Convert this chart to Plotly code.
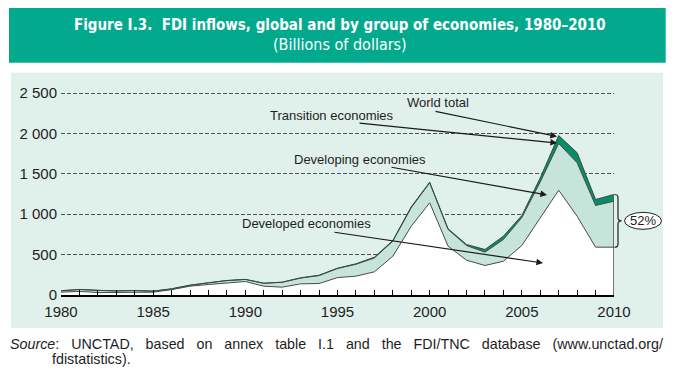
import plotly.graph_objects as go

# ---------------- data (billions of dollars) ----------------
years = list(range(1980, 2011))
developed = [35, 45, 30, 30, 32, 35, 66, 109, 130, 151, 167, 109, 97, 138, 142,
             216, 233, 287, 480, 852, 1141, 604, 431, 365, 418, 613, 959, 1297, 975, 592, 592]
developing = [15, 23, 27, 20, 23, 12, 9, 11, 20, 27, 25, 36, 60, 71, 98,
              112, 147, 171, 186, 229, 247, 207, 181, 165, 269, 345, 441, 578, 661, 516, 569]
transition = [4, 1, 1, 1, 1, 1, 2, 2, 2, 2, 2, 1, 2, 4, 5,
              4, 6, 10, 8, 10, 8, 8, 13, 33, 41, 26, 50, 99, 124, 74, 83]
x_label_years = [1980, 1985, 1990, 1995, 2000, 2005, 2010]
y_tick_vals = [0, 500, 1000, 1500, 2000, 2500]
y_tick_text = ["0", "500", "1 000", "1 500", "2 000", "2 500"]
share_label = "52%"

world = [a + b + c for a, b, c in zip(developed, developing, transition)]

# ---------------- layout geometry ----------------
FW, FH = 675, 378
L, R, T, B = 61, 61, 83, 83
W, H = FW - L - R, FH - T - B
YMAX = 2624

def px2x(px):
    return 1980 + (px - L) / W * 30

def py2y(py):
    return (T + H - py) / H * YMAX

def xp(px):
    return (px - L) / W

def yp(py):
    return (T + H - py) / H

LINE = "#4a4a4a"
TXT = "#1e1e1e"
SANS = "Liberation Sans, Arial, sans-serif"
COND = "DejaVu Sans Condensed, Liberation Sans Narrow, Arial Narrow, sans-serif"

fig = go.Figure()
fig.add_trace(go.Scatter(x=years, y=developed, stackgroup="s", mode="lines",
                         line=dict(color=LINE, width=1), fillcolor="#ffffff",
                         name="Developed economies"))
fig.add_trace(go.Scatter(x=years, y=developing, stackgroup="s", mode="lines",
                         line=dict(color=LINE, width=1), fillcolor="#c6e4d9",
                         name="Developing economies"))
fig.add_trace(go.Scatter(x=years, y=transition, stackgroup="s", mode="lines",
                         line=dict(color="#2f4f45", width=1), fillcolor="#0b8c69",
                         name="Transition economies"))

shapes = []
# light chart panel
shapes.append(dict(type="rect", xref="paper", yref="paper", layer="below",
                   x0=xp(11), x1=xp(663), y0=yp(328), y1=yp(72.7),
                   fillcolor="#e0f0ea", line=dict(width=0)))
# title banner
shapes.append(dict(type="rect", xref="paper", yref="paper", layer="below",
                   x0=xp(9), x1=xp(665.7), y0=yp(62.7), y1=yp(8),
                   fillcolor="#03a98c", line=dict(width=0)))
# right edge at 2010
shapes.append(dict(type="line", xref="x", yref="y", x0=2010, x1=2010,
                   y0=0, y1=developed[-1] + developing[-1],
                   line=dict(color=LINE, width=1.5)))
# brace for developing share in 2010
yt = world[-1] / YMAX
yb = developed[-1] / YMAX
ym = (yt + yb) / 2
x0b, xb, xt = xp(614.5), xp(618), xp(621.5)
c = 3 / H
path = (f"M {x0b},{yt} Q {xb},{yt} {xb},{yt - c} L {xb},{ym + c} "
        f"Q {xb},{ym} {xt},{ym} Q {xb},{ym} {xb},{ym - c} "
        f"L {xb},{yb + c} Q {xb},{yb} {x0b},{yb}")
shapes.append(dict(type="path", xref="paper", yref="paper", path=path,
                   line=dict(color="#222222", width=1.2)))
# ellipse around share label
shapes.append(dict(type="circle", xref="paper", yref="paper",
                   x0=xp(624.5), x1=xp(661.5), y0=ym - 8.5 / H, y1=ym + 8.5 / H,
                   fillcolor="#ffffff", line=dict(color="#222222", width=1)))

annotations = []
# title
annotations.append(dict(xref="paper", yref="paper", x=xp(340), y=yp(25),
                        text="<b>Figure I.3.  FDI inflows, global and by group of economies, 1980–2010</b>",
                        showarrow=False, xanchor="center", yanchor="middle",
                        font=dict(family=COND, size=15, color="#ffffff")))
annotations.append(dict(xref="paper", yref="paper", x=xp(340), y=yp(44.5),
                        text="(Billions of dollars)",
                        showarrow=False, xanchor="center", yanchor="middle",
                        font=dict(family=COND, size=16, color="#ffffff")))

# series labels and arrows
labels = [
    ("World total", (437.5, 102.7), (434, 111), (557, 136.5)),
    ("Transition economies", (331.5, 115.7), (358, 123), (557, 143)),
    ("Developing economies", (359.5, 159), (390, 167), (547, 195)),
    ("Developed economies", (306.5, 223), (333, 232), (543, 263)),
]
for text, (tx, ty), (sx, sy), (ex, ey) in labels:
    annotations.append(dict(xref="x", yref="y", x=px2x(tx), y=py2y(ty), text=text,
                            showarrow=False, xanchor="center", yanchor="middle",
                            font=dict(family=SANS, size=13, color=TXT)))
    annotations.append(dict(xref="x", yref="y", axref="x", ayref="y",
                            x=px2x(ex), y=py2y(ey), ax=px2x(sx), ay=py2y(sy),
                            text="", showarrow=True, arrowhead=2, arrowsize=1.1,
                            arrowwidth=1.2, arrowcolor="#1a1a1a", standoff=0,
                            startstandoff=0))
annotations.append(dict(xref="paper", yref="paper", x=xp(643), y=ym, text=share_label,
                        showarrow=False, xanchor="center", yanchor="middle",
                        font=dict(family=SANS, size=13, color=TXT)))

# source note
nb = "\u00a0"
line1_words = ["UNCTAD,", "based", "on", "annex", "table", "I.1", "and", "the",
               "FDI/TNC", "database", "(www.unctad.org/"]
line1 = "<i>Source</i>:" + nb * 3 + (nb * 3).join(line1_words)
annotations.append(dict(xref="paper", yref="paper", x=xp(8), y=yp(344),
                        text=line1, showarrow=False, xanchor="left", yanchor="middle",
                        font=dict(family=SANS, size=14.3, color=TXT)))
annotations.append(dict(xref="paper", yref="paper", x=xp(50), y=yp(358.5),
                        text="fdistatistics).", showarrow=False, xanchor="left",
                        yanchor="middle",
                        font=dict(family=SANS, size=14.3, color=TXT)))

fig.update_layout(
    width=FW, height=FH,
    margin=dict(l=L, r=R, t=T, b=B),
    paper_bgcolor="#ffffff", plot_bgcolor="rgba(0,0,0,0)",
    showlegend=False,
    shapes=shapes, annotations=annotations,
    xaxis=dict(range=[1980, 2010], tickmode="array", tickvals=years,
               ticktext=[str(y) if y in x_label_years else "" for y in years],
               ticks="inside", ticklen=5, tickwidth=1, tickcolor="#000000",
               showline=True, linecolor="#000000", linewidth=1.5,
               showgrid=False, zeroline=False, ticklabelstandoff=2,
               tickfont=dict(family=SANS, size=15, color=TXT)),
    yaxis=dict(range=[0, YMAX], tickmode="array", tickvals=y_tick_vals,
               ticktext=y_tick_text, ticks="", showline=False,
               showgrid=True, gridcolor="#505050", gridwidth=1, griddash="4px,2px",
               zeroline=False, ticklabelstandoff=3,
               tickfont=dict(family=SANS, size=15, color=TXT)),
)

fig.write_html("out.html", config={"displayModeBar": False},
               post_script="document.body.style.margin='0px';document.body.style.overflow='hidden';")
